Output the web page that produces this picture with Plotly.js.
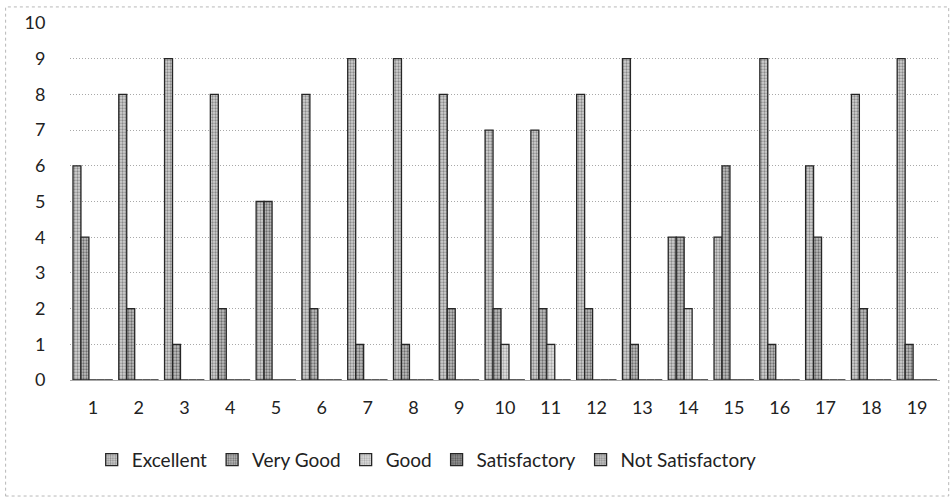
<!DOCTYPE html>
<html>
<head>
<meta charset="utf-8">
<script src="https://cdn.plot.ly/plotly-3.0.1.min.js"></script>
<style>
  html, body { margin: 0; padding: 0; background: #fff; }
  #chart { width: 952px; height: 500px; }
</style>
</head>
<body>
<div id="chart"></div>
<script>
const categories = ["1","2","3","4","5","6","7","8","9","10","11","12","13","14","15","16","17","18","19"];
const excellent       = [6, 8, 9, 8, 5, 8, 9, 9, 8, 7, 7, 8, 9, 4, 4, 9, 6, 8, 9];
const veryGood        = [4, 2, 1, 2, 5, 2, 1, 1, 2, 2, 2, 2, 1, 4, 6, 1, 4, 2, 1];
const good            = [0, 0, 0, 0, 0, 0, 0, 0, 0, 1, 1, 0, 0, 2, 0, 0, 0, 0, 0];
const satisfactory    = [0, 0, 0, 0, 0, 0, 0, 0, 0, 0, 0, 0, 0, 0, 0, 0, 0, 0, 0];
const notSatisfactory = [0, 0, 0, 0, 0, 0, 0, 0, 0, 0, 0, 0, 0, 0, 0, 0, 0, 0, 0];
const yTicks = [0,1,2,3,4,5,6,7,8,9,10];

const seriesNames  = ["Excellent", "Very Good", "Good", "Satisfactory", "Not Satisfactory"];
const seriesValues = [excellent, veryGood, good, satisfactory, notSatisfactory];
const fills   = ["#d2d2d2", "#c0c0c0", "#e2e2e2", "#9a9a9a", "#c8c8c8"];
const dots    = ["#8a8a8a", "#6e6e6e", "#a8a8a8", "#555555", "#8a8a8a"];

const traces = seriesNames.map((name, i) => ({
  type: 'bar',
  name: name,
  x: categories,
  y: seriesValues[i],
  marker: {
    color: fills[i],
    line: { color: '#262626', width: 1.3 },
    pattern: { shape: '.', fgcolor: dots[i], bgcolor: fills[i], size: 3, solidity: 0.45 }
  }
}));

const layout = {
  width: 952,
  height: 500,
  margin: { l: 70, r: 12, t: 23, b: 120 },
  paper_bgcolor: '#ffffff',
  plot_bgcolor: '#ffffff',
  barmode: 'group',
  bargap: 0.13,
  bargroupgap: 0,
  font: { family: 'Lato, "Open Sans", sans-serif', color: '#222', size: 18 },
  xaxis: {
    type: 'category',
    showgrid: false,
    showline: false,
    zeroline: false,
    ticks: 'outside',
    ticklen: 11,
    tickcolor: 'rgba(0,0,0,0)',
    tickfont: { size: 18, family: 'Lato, sans-serif', color: '#222' }
  },
  yaxis: {
    range: [0, 10],
    tickvals: yTicks,
    ticktext: yTicks.map(String),
    showgrid: true,
    gridcolor: '#a8a8a8',
    griddash: '1px,2px',
    gridwidth: 1,
    zeroline: true,
    zerolinecolor: '#a8a8a8',
    zerolinewidth: 1,
    showline: false,
    ticks: 'outside',
    ticklen: 20,
    tickcolor: 'rgba(0,0,0,0)',
    tickfont: { size: 18, family: 'Lato, sans-serif', color: '#222' }
  },
  showlegend: true,
  legend: {
    orientation: 'h',
    x: 0.41,
    xanchor: 'center',
    y: -0.17,
    yanchor: 'top',
    font: { size: 19, family: 'Lato, sans-serif', color: '#222' },
    itemwidth: 30,
    traceorder: 'normal'
  },
  shapes: [{
    type: 'rect', xref: 'paper', yref: 'paper',
    x0: -0.074, x1: 1.01, y0: -0.325, y1: 1.045,
    line: { color: '#b8b8b8', width: 1, dash: 'dot' }
  }]
};

Plotly.newPlot('chart', traces, layout, { displayModeBar: false, staticPlot: true });
</script>
</body>
</html>
